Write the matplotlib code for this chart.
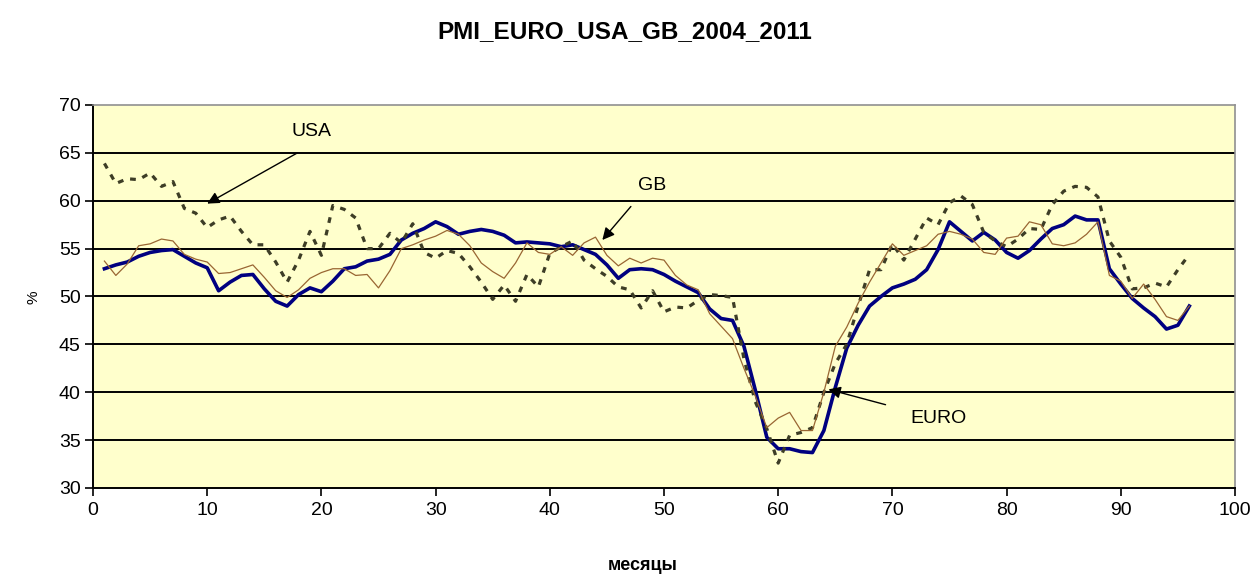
import matplotlib
matplotlib.use("Agg")
import matplotlib.pyplot as plt
import numpy as np

plt.rcParams['font.family'] = ['Liberation Sans', 'DejaVu Sans']

months = list(range(1, 97))

euro = [52.9, 53.3, 53.6, 54.2, 54.6, 54.8, 54.9, 54.2, 53.5, 53.0,
        50.6, 51.5, 52.2, 52.3, 50.8, 49.5, 49.0, 50.2, 50.9, 50.5,
        51.6, 52.9, 53.1, 53.7, 53.9, 54.4, 55.9, 56.6, 57.1, 57.8,
        57.3, 56.5, 56.8, 57.0, 56.8, 56.4, 55.6, 55.7, 55.6, 55.5,
        55.2, 55.4, 54.9, 54.4, 53.3, 51.9, 52.8, 52.9, 52.8, 52.3,
        51.6, 51.0, 50.4, 48.7, 47.7, 47.5, 44.8, 40.2, 35.3, 34.1,
        34.1, 33.8, 33.7, 36.0, 40.5, 44.6, 47.0, 49.0, 50.0, 50.9,
        51.3, 51.8, 52.8, 54.9, 57.8, 56.8, 55.8, 56.7, 55.9, 54.6,
        54.0, 54.8, 56.0, 57.1, 57.5, 58.4, 58.0, 58.0, 52.9, 51.3,
        49.8, 48.8, 47.9, 46.6, 47.0, 49.0]

gb = [53.7, 52.2, 53.4, 55.3, 55.5, 56.0, 55.8, 54.4, 53.9, 53.6,
      52.4, 52.5, 52.9, 53.3, 52.0, 50.6, 49.9, 50.7, 51.9, 52.5,
      52.9, 52.9, 52.2, 52.3, 50.9, 52.7, 55.0, 55.4, 55.9, 56.3,
      56.9, 56.5, 55.3, 53.5, 52.6, 51.9, 53.5, 55.6, 54.6, 54.4,
      55.2, 54.3, 55.6, 56.2, 54.3, 53.2, 54.0, 53.5, 54.0, 53.8,
      52.2, 51.2, 50.7, 48.2, 46.9, 45.6, 42.5, 39.6, 36.3, 37.3,
      37.9, 36.0, 36.0, 40.0, 44.8, 46.8, 49.3, 51.5, 53.5, 55.5,
      54.3, 54.8, 55.3, 56.5, 56.8, 56.5, 56.0, 54.6, 54.4, 56.1,
      56.3, 57.8, 57.5, 55.5, 55.3, 55.6, 56.5, 57.8, 52.2, 51.6,
      49.8, 51.3, 49.7, 47.9, 47.5, 49.0]

usa = [63.9, 61.8, 62.3, 62.2, 62.9, 61.5, 62.0, 59.2, 58.7, 57.2,
       58.0, 58.4, 56.8, 55.4, 55.4, 53.6, 51.5, 53.8, 56.8, 54.3,
       59.5, 59.1, 58.2, 55.0, 55.0, 56.6, 55.6, 57.6, 54.6, 54.0,
       54.8, 54.5, 53.1, 51.5, 49.7, 51.2, 49.5, 52.3, 51.0, 54.5,
       55.2, 55.8, 53.8, 52.9, 52.1, 51.0, 50.7, 48.8, 50.6, 48.4,
       48.9, 48.8, 49.6, 50.2, 50.1, 49.9, 43.5, 39.0, 36.2, 32.6,
       35.5, 35.8, 36.3, 40.0, 43.0, 45.0, 49.0, 52.8, 52.8, 55.5,
       53.8, 56.0, 58.2, 57.5, 59.8, 60.5, 59.6, 56.7, 55.8, 55.2,
       56.0, 57.1, 57.0, 59.6, 61.0, 61.5, 61.4, 60.4, 55.8, 54.1,
       50.8, 50.9, 51.4, 51.0, 52.8, 54.4]

x_ticks = [0, 10, 20, 30, 40, 50, 60, 70, 80, 90, 100]
y_ticks = [30, 35, 40, 45, 50, 55, 60, 65, 70]

fig = plt.figure(figsize=(12.5, 5.78), dpi=100)
ax = fig.add_axes([93/1250, 1 - 488/578, (1235 - 93)/1250, (488 - 105)/578])
ax.set_facecolor('#FFFFCC')

ax.set_xlim(0, 100)
ax.set_ylim(30, 70)
ax.set_xticks(x_ticks)
ax.set_yticks(y_ticks)
for yv in y_ticks[1:-1]:
    ax.axhline(yv, color='black', lw=1.4, zorder=1)

ax.plot(months, euro, color='#000080', lw=2.6, zorder=3, solid_joinstyle='round')
ax.plot(months, usa, color='#3d3d26', lw=2.3, linestyle=(0, (1.8, 2.2)), zorder=4)
ax.plot(months, gb, color='#996633', lw=0.9, zorder=5)

for s in ['left', 'bottom']:
    ax.spines[s].set_color('black')
    ax.spines[s].set_linewidth(1.4)
for s in ['top', 'right']:
    ax.spines[s].set_color('#909090')
    ax.spines[s].set_linewidth(1.2)

ax.tick_params(axis='both', direction='out', length=6, width=1.2, labelsize=14, colors='black')
ax.tick_params(axis='x', pad=4)
ax.tick_params(axis='y', pad=3)

arrow = dict(arrowstyle='-|>', color='black', lw=1.0, mutation_scale=18,
             shrinkA=0, shrinkB=0)
ax.annotate('', xy=(10.0, 59.7), xytext=(17.9, 65.0), arrowprops=arrow, zorder=6)
ax.text(19.1, 67.2, 'USA', fontsize=14, ha='center', va='center')
ax.annotate('', xy=(44.6, 55.9), xytext=(47.1, 59.4), arrowprops=arrow, zorder=6)
ax.text(49.0, 61.6, 'GB', fontsize=14, ha='center', va='center')
ax.annotate('', xy=(64.4, 40.3), xytext=(69.4, 38.7), arrowprops=arrow, zorder=6)
ax.text(74.0, 37.3, 'EURO', fontsize=14, ha='center', va='center')

fig.text(625/1250, 1 - 32/578, 'PMI_EURO_USA_GB_2004_2011', ha='center', va='center',
         fontsize=17.5, fontweight='bold')
fig.text(643/1250, 1 - 565/578, 'месяцы', ha='center', va='center',
         fontsize=13, fontweight='bold')
fig.text(33/1250, 1 - 297/578, '%', ha='center', va='center', rotation=90, fontsize=11)

fig.savefig('out.png', dpi=100, facecolor='white')
